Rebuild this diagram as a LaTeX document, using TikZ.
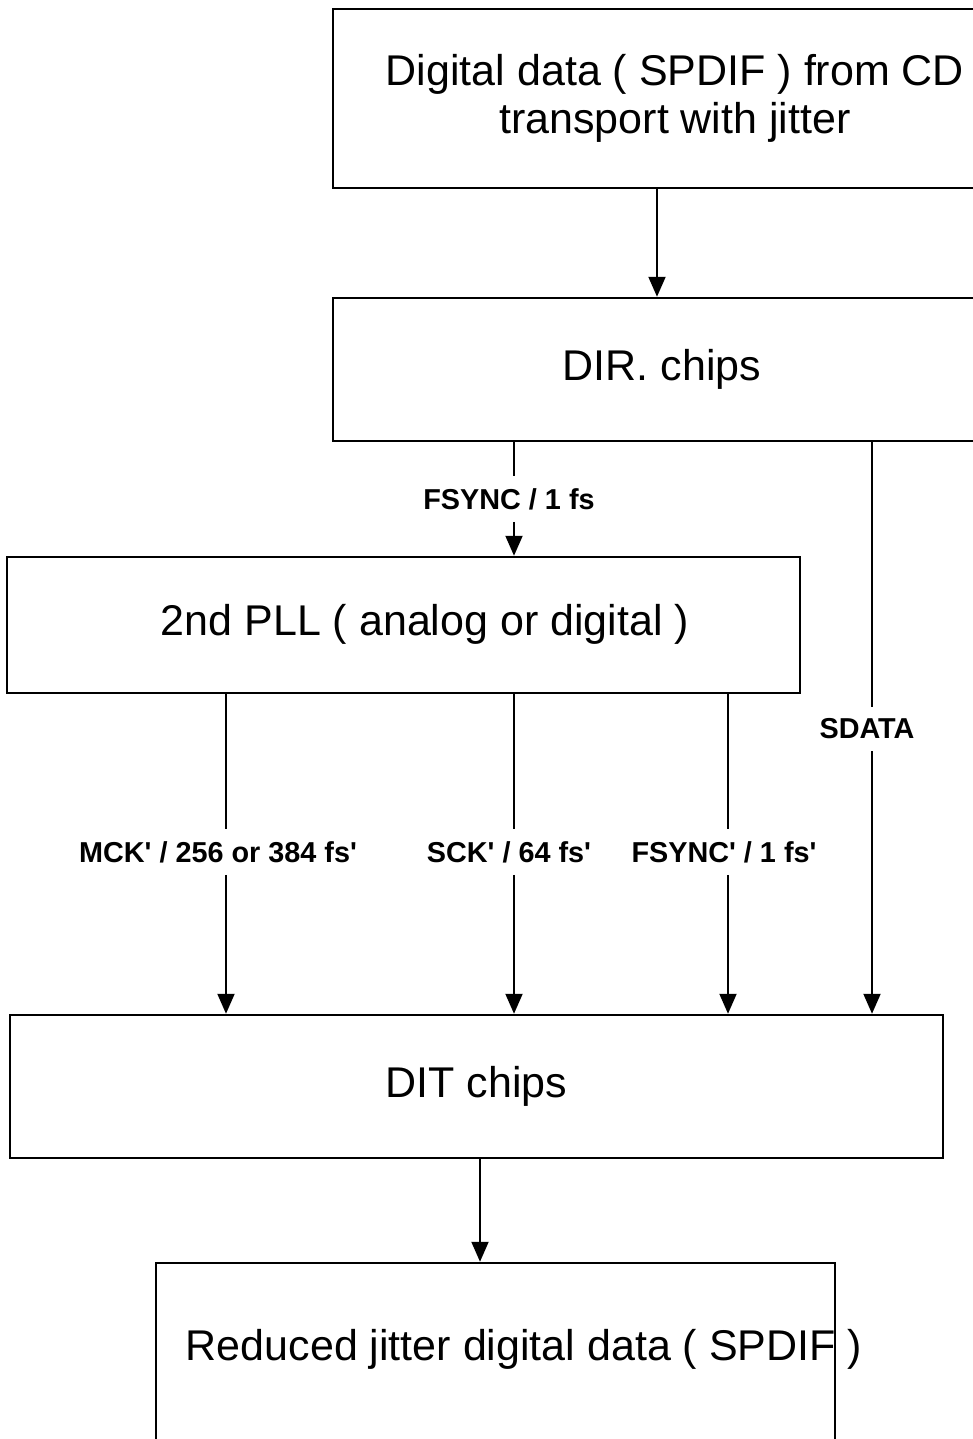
\documentclass[tikz,border=0pt]{standalone}
\usepackage{fontspec}
\setmainfont{Liberation Sans}
\usetikzlibrary{arrows.meta}
\tikzset{>={Triangle[length=20pt,width=17pt]}}
\tikzset{blk/.style={draw, line width=2.5pt, inner sep=0pt, align=center,
    font=\fontsize{43}{48}\selectfont}}
\tikzset{txt/.style={inner sep=0pt, font=\fontsize{43}{48}\selectfont}}
\tikzset{sig/.style={inner xsep=3pt, inner ysep=12pt,
    font=\bfseries\fontsize{28.8}{32}\selectfont}}
\tikzset{wire/.style={line width=2pt}}
\newcommand{\ap}{\textquotesingle}

\begin{document}
\begin{tikzpicture}[x=1pt, y=-1pt]

\useasboundingbox (0,0) rectangle (973,1439);
\clip (0,0) rectangle (973,1439);

% boxes
\node[blk, minimum width=684pt, minimum height=179pt] (cd) at (675,98.5)
  {Digital data ( SPDIF ) from CD\\transport with jitter};
\node[blk, minimum width=658pt, minimum height=143pt] (dir) at (662,369.5) {DIR. chips};
\node[blk, minimum width=793pt, minimum height=136pt] (pll) at (403.5,625) {};
\node[txt] (plltext) at (425,624) {2nd PLL ( analog or digital )};
\node[blk, minimum width=933pt, minimum height=143pt] (dit) at (476.5,1086.5) {DIT chips};
\node[blk, minimum width=679pt, minimum height=182pt] (out) at (495.5,1354) {};
\node[txt] (outtext) at (524,1349) {Reduced jitter digital data ( SPDIF )};

% signal names
\node[sig] (lfs) at (509,499) {FSYNC / 1 fs};
\node[sig] (lsd) at (867,729) {SDATA};
\node[sig] (lmck) at (218,852) {MCK\ap{} / 256 or 384 fs\ap};
\node[sig] (lsck) at (509,852) {SCK\ap{} / 64 fs\ap};
\node[sig] (lfs2) at (724,852) {FSYNC\ap{} / 1 fs\ap};

% x positions of the wires
\coordinate (xa) at (657,0);
\coordinate (xf) at (514,0);
\coordinate (xs) at (872,0);
\coordinate (xm) at (226,0);
\coordinate (xy) at (728,0);
\coordinate (xo) at (480,0);

\draw[wire, ->] (cd.south -| xa) -- (dir.north -| xa);
\draw[wire] (dir.south -| xf) -- (lfs.north -| xf);
\draw[wire, ->] (lfs.south -| xf) -- (pll.north -| xf);
\draw[wire] (dir.south -| xs) -- (lsd.north -| xs);
\draw[wire, ->] (lsd.south -| xs) -- (dit.north -| xs);
\draw[wire] (pll.south -| xm) -- (lmck.north -| xm);
\draw[wire, ->] (lmck.south -| xm) -- (dit.north -| xm);
\draw[wire] (pll.south -| xf) -- (lsck.north -| xf);
\draw[wire, ->] (lsck.south -| xf) -- (dit.north -| xf);
\draw[wire] (pll.south -| xy) -- (lfs2.north -| xy);
\draw[wire, ->] (lfs2.south -| xy) -- (dit.north -| xy);
\draw[wire, ->] (dit.south -| xo) -- (out.north -| xo);

\end{tikzpicture}
\end{document}
